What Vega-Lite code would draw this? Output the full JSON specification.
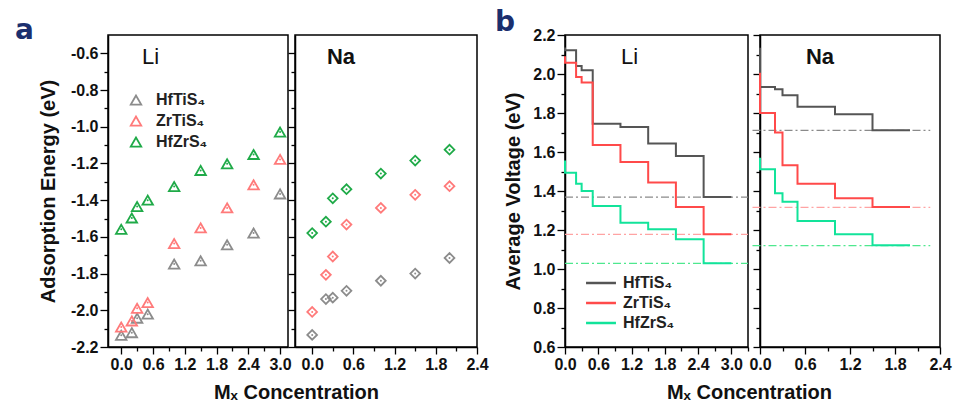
{
  "$schema": "https://vega.github.io/schema/vega-lite/v6.json",
  "padding": {"left": 14, "top": 8, "right": 5, "bottom": 5},
  "background": "white",
  "config": {
    "view": {"stroke": "#000", "strokeWidth": 1.5},
    "font": "Liberation Sans",
    "axis": {
      "domainColor": "#000", "domainWidth": 1.5, "tickColor": "#000", "tickWidth": 1.3, "tickCount": 100,
      "labelFont": "Liberation Sans", "labelFontSize": 16, "labelFontWeight": "bold", "labelColor": "#111",
      "labelPadding": 2, "labelOverlap": false, "labelFlush": false, "labelBound": false, "grid": false,
      "titleFont": "Liberation Sans", "titleFontSize": 20, "titleFontWeight": "bold", "titleColor": "#111"
    },
    "legend": {"title": null, "padding": 0, "labelFont": "Liberation Sans", "labelFontSize": 16, "labelFontWeight": "bold", "labelColor": "#222"}
  },
  "datasets": {
    "adsLi": [
      {"series": "HfTiS₄", "x": 0, "e": -2.136}, {"series": "HfTiS₄", "x": 0.2, "e": -2.122}, {"series": "HfTiS₄", "x": 0.3, "e": -2.043}, {"series": "HfTiS₄", "x": 0.5, "e": -2.021}, {"series": "HfTiS₄", "x": 1.0, "e": -1.748}, {"series": "HfTiS₄", "x": 1.5, "e": -1.73}, {"series": "HfTiS₄", "x": 2.0, "e": -1.643}, {"series": "HfTiS₄", "x": 2.5, "e": -1.579}, {"series": "HfTiS₄", "x": 3.0, "e": -1.366},
      {"series": "ZrTiS₄", "x": 0, "e": -2.091}, {"series": "ZrTiS₄", "x": 0.2, "e": -2.058}, {"series": "ZrTiS₄", "x": 0.3, "e": -1.989}, {"series": "ZrTiS₄", "x": 0.5, "e": -1.958}, {"series": "ZrTiS₄", "x": 1.0, "e": -1.636}, {"series": "ZrTiS₄", "x": 1.5, "e": -1.551}, {"series": "ZrTiS₄", "x": 2.0, "e": -1.442}, {"series": "ZrTiS₄", "x": 2.5, "e": -1.316}, {"series": "ZrTiS₄", "x": 3.0, "e": -1.178},
      {"series": "HfZrS₄", "x": 0, "e": -1.559}, {"series": "HfZrS₄", "x": 0.2, "e": -1.497}, {"series": "HfZrS₄", "x": 0.3, "e": -1.435}, {"series": "HfZrS₄", "x": 0.5, "e": -1.4}, {"series": "HfZrS₄", "x": 1.0, "e": -1.326}, {"series": "HfZrS₄", "x": 1.5, "e": -1.238}, {"series": "HfZrS₄", "x": 2.0, "e": -1.202}, {"series": "HfZrS₄", "x": 2.5, "e": -1.151}, {"series": "HfZrS₄", "x": 3.0, "e": -1.029}
    ],
    "adsNa": [
      {"series": "HfTiS₄", "x": 0, "e": -2.134}, {"series": "HfTiS₄", "x": 0.2, "e": -1.939}, {"series": "HfTiS₄", "x": 0.3, "e": -1.931}, {"series": "HfTiS₄", "x": 0.5, "e": -1.894}, {"series": "HfTiS₄", "x": 1.0, "e": -1.839}, {"series": "HfTiS₄", "x": 1.5, "e": -1.8}, {"series": "HfTiS₄", "x": 2.0, "e": -1.715},
      {"series": "ZrTiS₄", "x": 0, "e": -2.009}, {"series": "ZrTiS₄", "x": 0.2, "e": -1.807}, {"series": "ZrTiS₄", "x": 0.3, "e": -1.707}, {"series": "ZrTiS₄", "x": 0.5, "e": -1.533}, {"series": "ZrTiS₄", "x": 1.0, "e": -1.442}, {"series": "ZrTiS₄", "x": 1.5, "e": -1.371}, {"series": "ZrTiS₄", "x": 2.0, "e": -1.324},
      {"series": "HfZrS₄", "x": 0, "e": -1.579}, {"series": "HfZrS₄", "x": 0.2, "e": -1.517}, {"series": "HfZrS₄", "x": 0.3, "e": -1.39}, {"series": "HfZrS₄", "x": 0.5, "e": -1.34}, {"series": "HfZrS₄", "x": 1.0, "e": -1.255}, {"series": "HfZrS₄", "x": 1.5, "e": -1.184}, {"series": "HfZrS₄", "x": 2.0, "e": -1.125}
    ],
    "vLi": [
      {"series": "HfTiS₄", "x": 0, "v": 2.136}, {"series": "HfTiS₄", "x": 0.2, "v": 2.122}, {"series": "HfTiS₄", "x": 0.3, "v": 2.041}, {"series": "HfTiS₄", "x": 0.5, "v": 2.019}, {"series": "HfTiS₄", "x": 1.0, "v": 1.745}, {"series": "HfTiS₄", "x": 1.5, "v": 1.728}, {"series": "HfTiS₄", "x": 2.0, "v": 1.643}, {"series": "HfTiS₄", "x": 2.5, "v": 1.579}, {"series": "HfTiS₄", "x": 3.0, "v": 1.369},
      {"series": "ZrTiS₄", "x": 0, "v": 2.091}, {"series": "ZrTiS₄", "x": 0.2, "v": 2.058}, {"series": "ZrTiS₄", "x": 0.3, "v": 1.985}, {"series": "ZrTiS₄", "x": 0.5, "v": 1.956}, {"series": "ZrTiS₄", "x": 1.0, "v": 1.636}, {"series": "ZrTiS₄", "x": 1.5, "v": 1.549}, {"series": "ZrTiS₄", "x": 2.0, "v": 1.443}, {"series": "ZrTiS₄", "x": 2.5, "v": 1.318}, {"series": "ZrTiS₄", "x": 3.0, "v": 1.178},
      {"series": "HfZrS₄", "x": 0, "v": 1.556}, {"series": "HfZrS₄", "x": 0.2, "v": 1.494}, {"series": "HfZrS₄", "x": 0.3, "v": 1.437}, {"series": "HfZrS₄", "x": 0.5, "v": 1.4}, {"series": "HfZrS₄", "x": 1.0, "v": 1.323}, {"series": "HfZrS₄", "x": 1.5, "v": 1.237}, {"series": "HfZrS₄", "x": 2.0, "v": 1.204}, {"series": "HfZrS₄", "x": 2.5, "v": 1.152}, {"series": "HfZrS₄", "x": 3.0, "v": 1.029}
    ],
    "vNa": [
      {"series": "HfTiS₄", "x": 0, "v": 2.134}, {"series": "HfTiS₄", "x": 0.2, "v": 1.933}, {"series": "HfTiS₄", "x": 0.3, "v": 1.922}, {"series": "HfTiS₄", "x": 0.5, "v": 1.891}, {"series": "HfTiS₄", "x": 1.0, "v": 1.832}, {"series": "HfTiS₄", "x": 1.5, "v": 1.793}, {"series": "HfTiS₄", "x": 2.0, "v": 1.711},
      {"series": "ZrTiS₄", "x": 0, "v": 2.007}, {"series": "ZrTiS₄", "x": 0.2, "v": 1.8}, {"series": "ZrTiS₄", "x": 0.3, "v": 1.7}, {"series": "ZrTiS₄", "x": 0.5, "v": 1.532}, {"series": "ZrTiS₄", "x": 1.0, "v": 1.437}, {"series": "ZrTiS₄", "x": 1.5, "v": 1.363}, {"series": "ZrTiS₄", "x": 2.0, "v": 1.318},
      {"series": "HfZrS₄", "x": 0, "v": 1.571}, {"series": "HfZrS₄", "x": 0.2, "v": 1.511}, {"series": "HfZrS₄", "x": 0.3, "v": 1.388}, {"series": "HfZrS₄", "x": 0.5, "v": 1.345}, {"series": "HfZrS₄", "x": 1.0, "v": 1.246}, {"series": "HfZrS₄", "x": 1.5, "v": 1.178}, {"series": "HfZrS₄", "x": 2.0, "v": 1.122}
    ],
    "refLi": [
      {"series": "HfTiS₄", "x": 0, "v": 1.369}, {"series": "HfTiS₄", "x": 3.3, "v": 1.369},
      {"series": "ZrTiS₄", "x": 0, "v": 1.178}, {"series": "ZrTiS₄", "x": 3.3, "v": 1.178},
      {"series": "HfZrS₄", "x": 0, "v": 1.029}, {"series": "HfZrS₄", "x": 3.3, "v": 1.029}
    ],
    "refNa": [
      {"series": "HfTiS₄", "x": -0.1, "v": 1.711}, {"series": "HfTiS₄", "x": 2.27, "v": 1.711},
      {"series": "ZrTiS₄", "x": -0.1, "v": 1.316}, {"series": "ZrTiS₄", "x": 2.27, "v": 1.316},
      {"series": "HfZrS₄", "x": -0.1, "v": 1.12}, {"series": "HfZrS₄", "x": 2.27, "v": 1.12}
    ]
  },
  "resolve": {"scale": {"color": "independent"}},
  "spacing": 5,
  "hconcat": [
    {
      "bounds": "flush",
      "spacing": 7,
      "resolve": {"scale": {"color": "independent"}},
      "hconcat": [
        {
          "width": 180, "height": 312,
          "title": {"text": "a", "anchor": "start", "frame": "group", "dx": -93, "offset": -10, "fontSize": 28, "fontWeight": "bold", "color": "#1b2f6e", "font": "DejaVu Sans"},
          "resolve": {"scale": {"color": "independent"}},
          "layer": [
            {
              "data": {"name": "adsLi"},
              "mark": {"type": "point", "shape": "triangle-up", "filled": false, "strokeWidth": 1.8, "size": 110, "opacity": 1},
              "encoding": {
                "x": {"field": "x", "type": "quantitative", "scale": {"domain": [-0.25, 3.15], "nice": false, "zero": false},
                  "axis": {"values": [0, 0.3, 0.6, 0.9, 1.2, 1.5, 1.8, 2.1, 2.4, 2.7, 3.0], "tickCount": 100, "labelOverlap": false,
                    "labelExpr": "round(datum.value*10) % 6 === 0 ? format(datum.value, '.1f') : ''",
                    "tickSize": 7, "tickDash": {"condition": {"test": "round(datum.value*10) % 6 !== 0", "value": [4, 20]}, "value": []},
                    "title": "Mₓ Concentration", "titleX": 188, "titleY": 45, "titleBaseline": "middle", "titleAnchor": "middle"}},
                "y": {"field": "e", "type": "quantitative", "scale": {"domain": [-2.2, -0.5], "nice": false, "zero": false},
                  "axis": {"values": [-2.2, -2.1, -2.0, -1.9, -1.8, -1.7, -1.6, -1.5, -1.4, -1.3, -1.2, -1.1, -1.0, -0.9, -0.8, -0.7, -0.6], "tickCount": 100, "labelOverlap": false,
                    "labelExpr": "round(datum.value*10) % 2 === 0 ? replace(format(datum.value, '.1f'), '−', '-') : ''",
                    "tickSize": 8, "tickDash": {"condition": {"test": "round(datum.value*10) % 2 !== 0", "value": [4, 20]}, "value": []},
                    "title": "Adsorption Energy (eV)", "titleX": -60, "titleBaseline": "middle"}},
                "color": {"field": "series", "type": "nominal",
                  "scale": {"domain": ["HfTiS₄", "ZrTiS₄", "HfZrS₄"], "range": ["#8c8c8c", "#ff7a7a", "#1faa48"]},
                  "legend": {"orient": "none", "legendX": 20, "legendY": 57, "symbolType": "triangle-up", "symbolSize": 110, "symbolStrokeWidth": 1.8, "symbolFillColor": "transparent", "rowPadding": 3, "labelOffset": 12}}
              }
            },
            {
              "data": {"name": "adsLi"},
              "mark": {"type": "point", "shape": "circle", "filled": true, "size": 4, "opacity": 1},
              "encoding": {"x": {"field": "x", "type": "quantitative"}, "y": {"field": "e", "type": "quantitative"},
                "color": {"field": "series", "type": "nominal", "scale": {"domain": ["HfTiS₄", "ZrTiS₄", "HfZrS₄"], "range": ["#8c8c8c", "#ff7a7a", "#1faa48"]}, "legend": null}}
            },
            {
              "data": {"values": [{}]},
              "mark": {"type": "text", "fontSize": 22, "font": "Liberation Sans", "color": "#111"},
              "encoding": {"x": {"datum": 0.553}, "y": {"datum": -0.622}, "text": {"value": "Li"}}
            }
          ]
        },
        {
          "width": 182, "height": 312,
          "layer": [
            {
              "data": {"name": "adsNa"},
              "mark": {"type": "point", "shape": "diamond", "filled": false, "strokeWidth": 1.8, "size": 95, "opacity": 1},
              "encoding": {
                "x": {"field": "x", "type": "quantitative", "scale": {"domain": [-0.25, 2.4], "nice": false, "zero": false},
                  "axis": {"values": [0, 0.3, 0.6, 0.9, 1.2, 1.5, 1.8, 2.1, 2.4], "tickCount": 100, "labelOverlap": false,
                    "labelExpr": "round(datum.value*10) % 6 === 0 ? format(datum.value, '.1f') : ''",
                    "tickSize": 7, "tickDash": {"condition": {"test": "round(datum.value*10) % 6 !== 0", "value": [4, 20]}, "value": []},
                    "title": null}},
                "y": {"field": "e", "type": "quantitative", "scale": {"domain": [-2.2, -0.5], "nice": false, "zero": false},
                  "axis": {"values": [-2.2, -2.1, -2.0, -1.9, -1.8, -1.7, -1.6, -1.5, -1.4, -1.3, -1.2, -1.1, -1.0, -0.9, -0.8, -0.7, -0.6], "tickCount": 100,
                    "labels": false,
                    "tickSize": 7, "tickDash": {"condition": {"test": "round(datum.value*10) % 2 !== 0", "value": [4, 20]}, "value": []},
                    "title": null}},
                "color": {"field": "series", "type": "nominal",
                  "scale": {"domain": ["HfTiS₄", "ZrTiS₄", "HfZrS₄"], "range": ["#8c8c8c", "#ff7a7a", "#1faa48"]},
                  "legend": null}
              }
            },
            {
              "data": {"name": "adsNa"},
              "mark": {"type": "point", "shape": "circle", "filled": true, "size": 4, "opacity": 1},
              "encoding": {"x": {"field": "x", "type": "quantitative"}, "y": {"field": "e", "type": "quantitative"}, "color": {"field": "series", "type": "nominal", "legend": null}}
            },
            {
              "data": {"values": [{}]},
              "mark": {"type": "text", "fontSize": 22, "fontWeight": "bold", "font": "Liberation Sans", "color": "#111"},
              "encoding": {"x": {"datum": 0.42}, "y": {"datum": -0.622}, "text": {"value": "Na"}}
            }
          ]
        }
      ]
    },
    {
      "bounds": "flush",
      "spacing": 12,
      "resolve": {"scale": {"color": "independent"}},
      "hconcat": [
        {
          "width": 183, "height": 312,
          "title": {"text": "b", "anchor": "start", "frame": "group", "dx": -70, "offset": -10, "fontSize": 28, "fontWeight": "bold", "color": "#1b2f6e", "font": "DejaVu Sans"},
          "resolve": {"scale": {"color": "independent"}},
          "layer": [
            {
              "data": {"name": "refLi"},
              "mark": {"type": "line", "strokeWidth": 1.3, "strokeDash": [8, 3, 2, 3]},
              "encoding": {
                "x": {"field": "x", "type": "quantitative", "scale": {"domain": [0, 3.3], "nice": false, "zero": false},
                  "axis": {"values": [0, 0.3, 0.6, 0.9, 1.2, 1.5, 1.8, 2.1, 2.4, 2.7, 3.0, 3.3], "tickCount": 100, "labelOverlap": false,
                    "labelExpr": "round(datum.value*10) % 6 === 0 ? format(datum.value, '.1f') : ''",
                    "tickSize": 7, "tickDash": {"condition": {"test": "round(datum.value*10) % 6 !== 0", "value": [4, 20]}, "value": []},
                    "title": "Mₓ Concentration", "titleX": 184, "titleY": 45, "titleBaseline": "middle", "titleAnchor": "middle"}},
                "y": {"field": "v", "type": "quantitative", "scale": {"domain": [0.6, 2.2], "nice": false, "zero": false},
                  "axis": {"values": [0.6, 0.7, 0.8, 0.9, 1.0, 1.1, 1.2, 1.3, 1.4, 1.5, 1.6, 1.7, 1.8, 1.9, 2.0, 2.1, 2.2], "tickCount": 100, "labelOverlap": false,
                    "labelExpr": "round(datum.value*10) % 2 === 0 ? format(datum.value, '.1f') : ''",
                    "tickSize": 8, "tickDash": {"condition": {"test": "round(datum.value*10) % 2 !== 0", "value": [4, 20]}, "value": []},
                    "title": "Average Voltage (eV)", "titleX": -52, "titleBaseline": "middle"}},
                "color": {"field": "series", "type": "nominal",
                  "scale": {"domain": ["HfTiS₄", "ZrTiS₄", "HfZrS₄"], "range": ["#8a8a8a", "#ffa3a3", "#4ee88e"]},
                  "legend": null}
              }
            },
            {
              "data": {"name": "vLi"},
              "mark": {"type": "line", "interpolate": "step-before", "strokeWidth": 2},
              "encoding": {
                "x": {"field": "x", "type": "quantitative"},
                "y": {"field": "v", "type": "quantitative"},
                "color": {"field": "series", "type": "nominal",
                  "scale": {"domain": ["HfTiS₄", "ZrTiS₄", "HfZrS₄"], "range": ["#555555", "#ff4a4a", "#12e39a"]},
                  "legend": {"orient": "none", "legendX": 28, "legendY": 240, "symbolType": "M-4,0H4", "symbolSize": 56, "symbolStrokeWidth": 2.5, "rowPadding": 4, "labelOffset": 14}}
              }
            },
            {
              "data": {"values": [{}]},
              "mark": {"type": "text", "fontSize": 22, "font": "Liberation Sans", "color": "#111"},
              "encoding": {"x": {"datum": 1.163}, "y": {"datum": 2.085}, "text": {"value": "Li"}}
            }
          ]
        },
        {
          "width": 180, "height": 312,
          "resolve": {"scale": {"color": "independent"}},
          "layer": [
            {
              "data": {"name": "refNa"},
              "mark": {"type": "line", "strokeWidth": 1.3, "strokeDash": [8, 3, 2, 3]},
              "encoding": {
                "x": {"field": "x", "type": "quantitative", "scale": {"domain": [0, 2.4], "nice": false, "zero": false},
                  "axis": {"values": [0, 0.3, 0.6, 0.9, 1.2, 1.5, 1.8, 2.1, 2.4], "tickCount": 100, "labelOverlap": false,
                    "labelExpr": "round(datum.value*10) % 6 === 0 ? format(datum.value, '.1f') : ''",
                    "tickSize": 7, "tickDash": {"condition": {"test": "round(datum.value*10) % 6 !== 0", "value": [4, 20]}, "value": []},
                    "title": null}},
                "y": {"field": "v", "type": "quantitative", "scale": {"domain": [0.6, 2.2], "nice": false, "zero": false},
                  "axis": {"values": [0.6, 0.7, 0.8, 0.9, 1.0, 1.1, 1.2, 1.3, 1.4, 1.5, 1.6, 1.7, 1.8, 1.9, 2.0, 2.1, 2.2], "tickCount": 100,
                    "labels": false,
                    "tickSize": 7, "tickDash": {"condition": {"test": "round(datum.value*10) % 2 !== 0", "value": [4, 20]}, "value": []},
                    "title": null}},
                "color": {"field": "series", "type": "nominal",
                  "scale": {"domain": ["HfTiS₄", "ZrTiS₄", "HfZrS₄"], "range": ["#8a8a8a", "#ffa3a3", "#4ee88e"]},
                  "legend": null}
              }
            },
            {
              "data": {"name": "vNa"},
              "mark": {"type": "line", "interpolate": "step-before", "strokeWidth": 2},
              "encoding": {
                "x": {"field": "x", "type": "quantitative"},
                "y": {"field": "v", "type": "quantitative"},
                "color": {"field": "series", "type": "nominal",
                  "scale": {"domain": ["HfTiS₄", "ZrTiS₄", "HfZrS₄"], "range": ["#555555", "#ff4a4a", "#12e39a"]},
                  "legend": null}
              }
            },
            {
              "data": {"values": [{}]},
              "mark": {"type": "text", "fontSize": 22, "fontWeight": "bold", "font": "Liberation Sans", "color": "#111"},
              "encoding": {"x": {"datum": 0.8}, "y": {"datum": 2.085}, "text": {"value": "Na"}}
            }
          ]
        }
      ]
    }
  ]
}
